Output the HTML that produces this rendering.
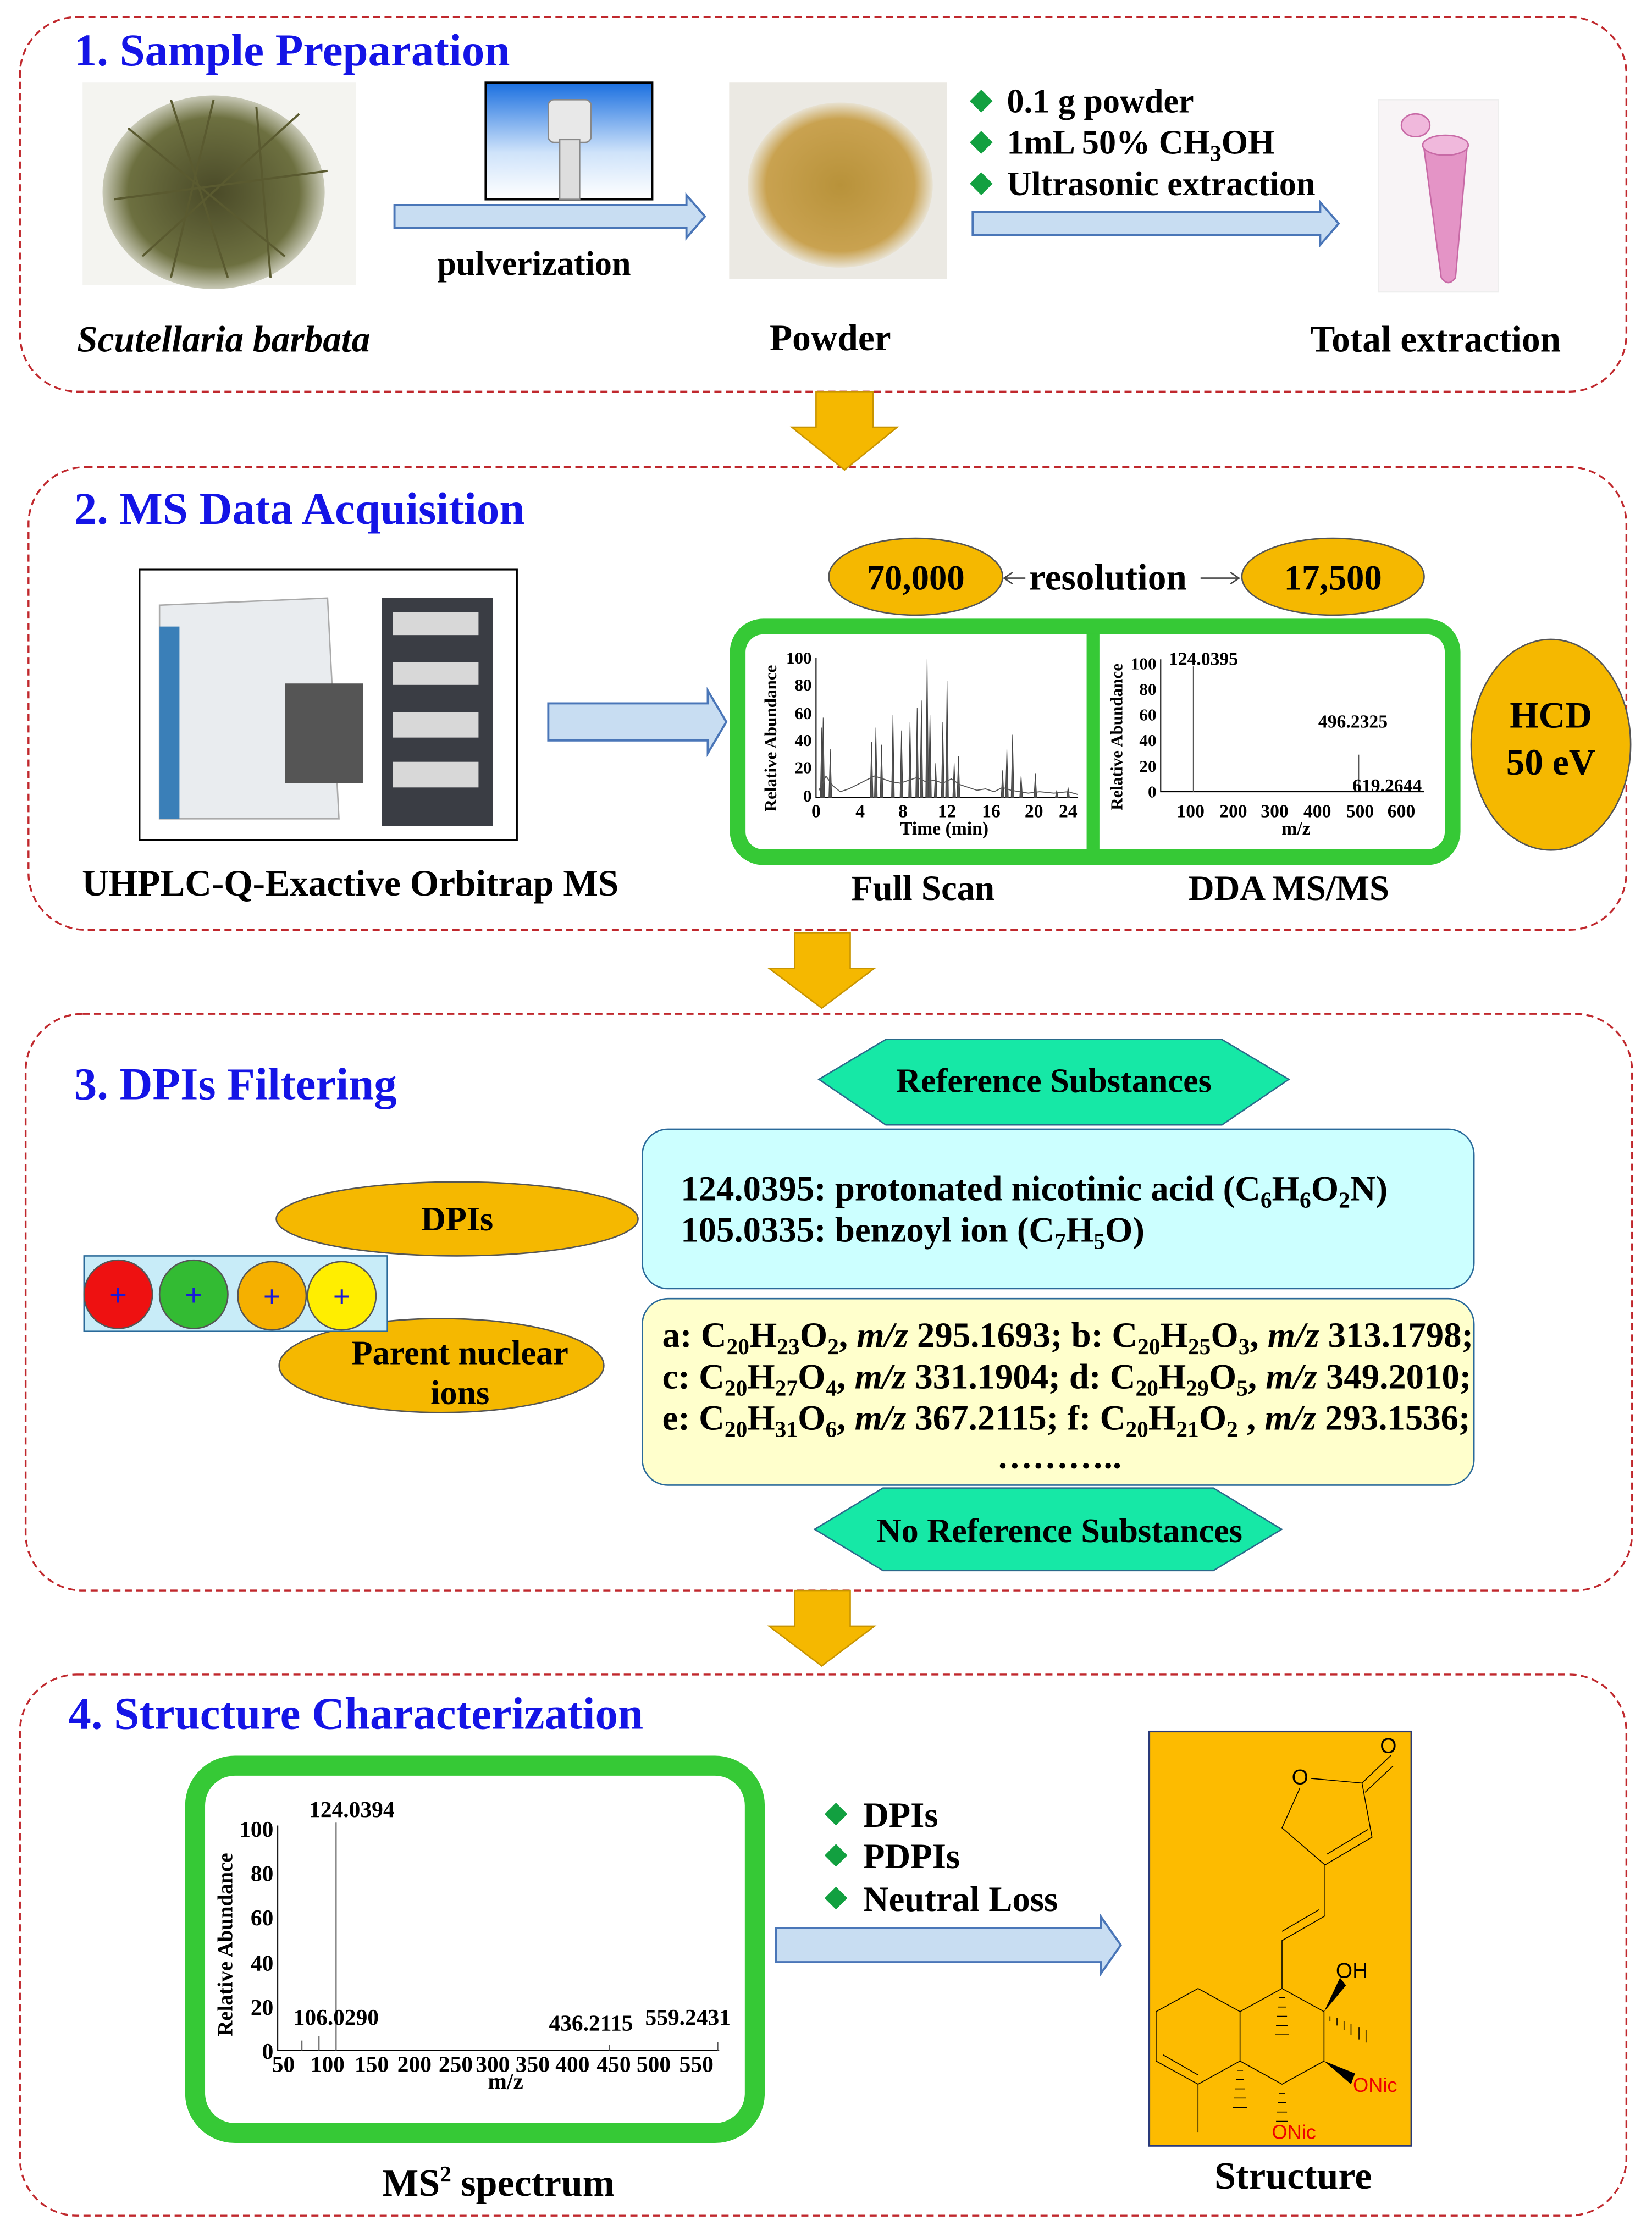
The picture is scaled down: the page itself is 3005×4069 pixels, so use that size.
<!DOCTYPE html>
<html><head><meta charset="utf-8"><style>
html,body{margin:0;padding:0;background:#fff;}
svg{display:block;}
text{font-family:"Liberation Serif",serif;font-weight:bold;}
</style></head><body>
<svg width="3005" height="4069" viewBox="0 0 1160 1571" preserveAspectRatio="none" xmlns="http://www.w3.org/2000/svg">
<defs>
<linearGradient id="sky" x1="0" y1="0" x2="0" y2="1"><stop offset="0" stop-color="#1a6fe0"/><stop offset="0.6" stop-color="#cfe3fa"/><stop offset="1" stop-color="#fff"/></linearGradient>
<radialGradient id="pow" cx="0.5" cy="0.5" r="0.5"><stop offset="0" stop-color="#b8923a"/><stop offset="0.8" stop-color="#c9a250"/><stop offset="1" stop-color="#e8e2d2"/></radialGradient>
<radialGradient id="herb" cx="0.5" cy="0.5" r="0.55"><stop offset="0" stop-color="#4a4a28"/><stop offset="0.7" stop-color="#6d7040"/><stop offset="1" stop-color="#f0f0ea"/></radialGradient>
</defs>
<g fill="none" stroke="#c0282d" stroke-width="1.3" stroke-dasharray="5,3">
<rect x="14" y="12" width="1128" height="263" rx="40"/>
<rect x="20" y="328" width="1122" height="325" rx="40"/>
<rect x="18" y="712" width="1128" height="405" rx="40"/>
<rect x="14" y="1176" width="1128" height="380" rx="40"/>
</g>
<g fill="#1414e6" font-size="32">
<text x="52" y="46">1. Sample Preparation</text>
<text x="52" y="368">2. MS Data Acquisition</text>
<text x="52" y="772">3. DPIs Filtering</text>
<text x="48" y="1214">4. Structure Characterization</text>
</g>
<g fill="#f5b800" stroke="#c89400" stroke-width="1">
<path d="M573 275H613V300H630L593 330L556 300H573Z"/>
<path d="M558 655H597V680H614L577 708L540 680H558Z"/>
<path d="M558 1117H597V1142H614L577 1170L540 1142H558Z"/>
</g>
<g fill="#c8ddf2" stroke="#4a76b8" stroke-width="1.5">
<path d="M277 144H482V137L495 152L482 167V160H277Z"/>
<path d="M683 149H927V142L940 157L927 172V165H683Z"/>
<path d="M385 494H497V485L510 507L497 529V520H385Z"/>
<path d="M545 1354H773V1346L787 1366L773 1386V1378H545Z"/>
</g>
<rect x="58" y="58" width="192" height="142" fill="#f4f4f0"/>
<ellipse cx="150" cy="135" rx="78" ry="68" fill="url(#herb)"/>
<g stroke="#5a5a30" stroke-width="1.5">
<path d="M90 90L200 180M100 180L210 80M120 70L160 195M80 140L230 120M150 70L120 195M180 75L190 195"/>
</g>
<rect x="341" y="58" width="117" height="82" fill="url(#sky)" stroke="#000" stroke-width="1.5"/>
<rect x="385" y="70" width="30" height="30" rx="4" fill="#e8e8e8" stroke="#888"/>
<rect x="393" y="98" width="14" height="42" fill="#ddd" stroke="#888"/>
<rect x="512" y="58" width="153" height="138" fill="#ebe9e3"/>
<ellipse cx="590" cy="130" rx="65" ry="58" fill="url(#pow)"/>
<rect x="968" y="70" width="84" height="135" fill="#f8f4f6" stroke="#eee"/>
<path d="M1000 105L1030 105L1022 195Q1017 202 1012 195Z" fill="#e494c6" stroke="#c86aa6"/>
<ellipse cx="1015" cy="102" rx="16" ry="7" fill="#f0b8dc" stroke="#c86aa6"/>
<ellipse cx="994" cy="88" rx="10" ry="8" fill="#f0b8dc" stroke="#c86aa6"/>
<g font-size="26" fill="#000">
<text x="375" y="193" text-anchor="middle" font-size="24">pulverization</text>
<text x="157" y="247" text-anchor="middle" font-style="italic">Scutellaria barbata</text>
<text x="583" y="246" text-anchor="middle">Powder</text>
<text x="1008" y="247" text-anchor="middle">Total extraction</text>
</g>
<g fill="#12a040">
<path d="M689 63L697 71L689 79L681 71Z"/><path d="M689 92L697 100L689 108L681 100Z"/><path d="M689 121L697 129L689 137L681 129Z"/>
<path d="M587 1266L595 1274L587 1282L579 1274Z"/><path d="M587 1295L595 1303L587 1311L579 1303Z"/><path d="M587 1325L595 1333L587 1341L579 1333Z"/>
</g>
<g font-size="24" fill="#000">
<text x="707" y="79">0.1 g powder</text>
<text x="707" y="108">1mL 50% CH<tspan font-size="16" dy="5">3</tspan><tspan dy="-5">OH</tspan></text>
<text x="707" y="137">Ultrasonic extraction</text>
</g>
<rect x="98" y="400" width="265" height="190" fill="#fff" stroke="#000" stroke-width="1.2"/>
<path d="M112 425L230 420L238 575L112 575Z" fill="#e9ecef" stroke="#aaa"/>
<rect x="112" y="440" width="14" height="135" fill="#3a7fb8"/>
<rect x="200" y="480" width="55" height="70" fill="#555"/>
<rect x="268" y="420" width="78" height="160" fill="#3a3d44"/>
<g fill="#d8d8d8"><rect x="276" y="430" width="60" height="16"/><rect x="276" y="465" width="60" height="16"/><rect x="276" y="500" width="60" height="18"/><rect x="276" y="535" width="60" height="18"/></g>
<g font-size="26" fill="#000">
<text x="246" y="629" text-anchor="middle">UHPLC-Q-Exactive Orbitrap MS</text>
<text x="648" y="632" text-anchor="middle" font-size="25">Full Scan</text>
<text x="905" y="632" text-anchor="middle" font-size="25">DDA  MS/MS</text>
<text x="778" y="414" text-anchor="middle">resolution</text>
</g>
<g stroke="#444" stroke-width="1" fill="none"><path d="M720 406H705M711 402L705 406L711 410"/><path d="M843 406H870M864 402L870 406L864 410"/></g>
<g fill="#f5b800" stroke="#555" stroke-width="1">
<ellipse cx="643" cy="405" rx="61" ry="27"/>
<ellipse cx="936" cy="405" rx="64" ry="27"/>
<ellipse cx="1089" cy="523" rx="56" ry="74"/>
</g>
<g font-size="25" fill="#000" text-anchor="middle">
<text x="643" y="414">70,000</text><text x="936" y="414">17,500</text>
<text x="1089" y="511" font-size="26">HCD</text><text x="1089" y="544" font-size="26">50 eV</text>
</g>
<rect x="518" y="440" width="502" height="162" rx="18" fill="#fff" stroke="#36c936" stroke-width="11"/>
<rect x="763" y="445" width="9" height="152" fill="#36c936"/>
<g font-size="12" fill="#000" text-anchor="end">
<text x="570" y="466">100</text><text x="570" y="485">80</text><text x="570" y="505">60</text><text x="570" y="524">40</text><text x="570" y="543">20</text><text x="570" y="563">0</text>
</g>
<text x="0" y="0" font-size="12" transform="translate(545,570) rotate(-90)">Relative Abundance</text>
<path d="M573 462V560H757" stroke="#000" stroke-width="0.8" fill="none"/>
<g font-size="13" fill="#000" text-anchor="middle">
<text x="573" y="574">0</text><text x="604" y="574">4</text><text x="634" y="574">8</text><text x="665" y="574">12</text><text x="696" y="574">16</text><text x="726" y="574">20</text><text x="750" y="574">24</text>
<text x="663" y="586">Time (min)</text>
</g>
<g fill="#555" stroke="#444" stroke-width="0.4">
<path d="M576 560L577 511L578 560ZM577 560L578 504L579 560ZM582 560L583 526L584 560ZM611 560L612 521L613 560ZM614 560L615 511L616 560ZM618 560L619 523L620 560ZM626 560L627 502L628 560ZM632 560L633 513L634 560ZM638 560L639 507L640 560ZM643 560L644 497L645 560ZM646 560L647 492L648 560ZM650 560L651 463L652 560ZM652 560L653 502L654 560ZM656 560L657 536L658 560ZM661 560L662 507L663 560ZM664 560L665 478L666 560ZM669 560L670 536L671 560ZM672 560L673 531L674 560ZM703 560L704 541L705 560ZM706 560L707 526L708 560ZM710 560L711 516L712 560ZM716 560L717 545L718 560ZM726 560L727 543L728 560ZM741 560L742 555L743 560ZM749 560L750 553L751 560Z"/>
</g>
<polyline fill="none" stroke="#555" stroke-width="0.7" points="575,555 580,545 585,552 590,556 596,554 602,551 608,548 614,545 620,547 626,549 632,550 638,548 644,546 650,549 656,548 662,550 668,547 674,551 680,553 686,555 692,554 698,556 704,553 710,555 716,556 722,557 730,556 740,557 750,556 757,558"/>
<g font-size="12" fill="#000" text-anchor="end">
<text x="812" y="470">100</text><text x="812" y="488">80</text><text x="812" y="506">60</text><text x="812" y="524">40</text><text x="812" y="542">20</text><text x="812" y="560">0</text>
</g>
<text x="0" y="0" font-size="12" transform="translate(788,569) rotate(-90)">Relative Abundance</text>
<path d="M815 463V556H1000" stroke="#000" stroke-width="0.8" fill="none"/>
<path d="M838 556V468M954 556V530" stroke="#555" stroke-width="0.8"/>
<g font-size="13" fill="#000" text-anchor="middle">
<text x="836" y="574">100</text><text x="866" y="574">200</text><text x="895" y="574">300</text><text x="925" y="574">400</text><text x="955" y="574">500</text><text x="984" y="574">600</text>
<text x="910" y="586">m/z</text>
<text x="845" y="467">124.0395</text><text x="950" y="511">496.2325</text><text x="974" y="556">619.2644</text>
</g>
<path d="M575 758L622 730H858L905 758L858 790H622Z" fill="#16e8a6" stroke="#2a6a8a" stroke-width="1"/>
<path d="M572 1074L620 1045H852L900 1074L852 1103H620Z" fill="#16e8a6" stroke="#2a6a8a" stroke-width="1"/>
<text x="740" y="767" font-size="24" text-anchor="middle" fill="#000">Reference Substances</text>
<text x="744" y="1083" font-size="24" text-anchor="middle" fill="#000">No Reference Substances</text>
<rect x="451" y="793" width="584" height="112" rx="18" fill="#ccffff" stroke="#2a6a9a" stroke-width="1"/>
<rect x="451" y="912" width="584" height="131" rx="18" fill="#ffffcc" stroke="#2a6a9a" stroke-width="1"/>
<g font-size="25" fill="#000">
<text x="478" y="843">124.0395: protonated nicotinic acid  (C<tspan font-size="16" dy="5">6</tspan><tspan dy="-5">H</tspan><tspan font-size="16" dy="5">6</tspan><tspan dy="-5">O</tspan><tspan font-size="16" dy="5">2</tspan><tspan dy="-5">N)</tspan></text>
<text x="478" y="872">105.0335: benzoyl ion (C<tspan font-size="16" dy="5">7</tspan><tspan dy="-5">H</tspan><tspan font-size="16" dy="5">5</tspan><tspan dy="-5">O)</tspan></text>
<text x="465" y="946">a: C<tspan font-size="16" dy="5">20</tspan><tspan dy="-5">H</tspan><tspan font-size="16" dy="5">23</tspan><tspan dy="-5">O</tspan><tspan font-size="16" dy="5">2</tspan><tspan dy="-5">, </tspan><tspan font-style="italic">m/z</tspan> 295.1693; b: C<tspan font-size="16" dy="5">20</tspan><tspan dy="-5">H</tspan><tspan font-size="16" dy="5">25</tspan><tspan dy="-5">O</tspan><tspan font-size="16" dy="5">3</tspan><tspan dy="-5">, </tspan><tspan font-style="italic">m/z</tspan> 313.1798;</text>
<text x="465" y="975">c: C<tspan font-size="16" dy="5">20</tspan><tspan dy="-5">H</tspan><tspan font-size="16" dy="5">27</tspan><tspan dy="-5">O</tspan><tspan font-size="16" dy="5">4</tspan><tspan dy="-5">, </tspan><tspan font-style="italic">m/z</tspan> 331.1904; d: C<tspan font-size="16" dy="5">20</tspan><tspan dy="-5">H</tspan><tspan font-size="16" dy="5">29</tspan><tspan dy="-5">O</tspan><tspan font-size="16" dy="5">5</tspan><tspan dy="-5">, </tspan><tspan font-style="italic">m/z</tspan> 349.2010;</text>
<text x="465" y="1004">e: C<tspan font-size="16" dy="5">20</tspan><tspan dy="-5">H</tspan><tspan font-size="16" dy="5">31</tspan><tspan dy="-5">O</tspan><tspan font-size="16" dy="5">6</tspan><tspan dy="-5">, </tspan><tspan font-style="italic">m/z</tspan> 367.2115; f: C<tspan font-size="16" dy="5">20</tspan><tspan dy="-5">H</tspan><tspan font-size="16" dy="5">21</tspan><tspan dy="-5">O</tspan><tspan font-size="16" dy="5">2</tspan><tspan dy="-5"> , </tspan><tspan font-style="italic">m/z</tspan> 293.1536;</text>
<text x="700" y="1031">………..</text>
</g>
<g fill="#f5b800" stroke="#555" stroke-width="1">
<ellipse cx="321" cy="856" rx="127" ry="26"/>
<ellipse cx="310" cy="959" rx="114" ry="33"/>
</g>
<text x="321" y="864" font-size="24" text-anchor="middle" fill="#000">DPIs</text>
<text x="323" y="958" font-size="24" text-anchor="middle" fill="#000">Parent nuclear</text>
<text x="323" y="986" font-size="24" text-anchor="middle" fill="#000">ions</text>
<rect x="59" y="882" width="213" height="53" fill="#c8ecf8" stroke="#2a6a9a" stroke-width="1"/>
<g stroke="#555" stroke-width="1">
<circle cx="83" cy="909" r="24" fill="#ee1111"/><circle cx="136" cy="909" r="24" fill="#33bb33"/><circle cx="191" cy="910" r="24" fill="#f5b000"/><circle cx="240" cy="910" r="24" fill="#ffee00"/>
</g>
<g font-size="22" fill="#1a1ad8" text-anchor="middle"><text x="83" y="917">+</text><text x="136" y="917">+</text><text x="191" y="918">+</text><text x="240" y="918">+</text></g>
<rect x="137" y="1240" width="393" height="258" rx="28" fill="#fff" stroke="#36c936" stroke-width="14"/>
<g font-size="16" fill="#000" text-anchor="end">
<text x="192" y="1290">100</text><text x="192" y="1321">80</text><text x="192" y="1352">60</text><text x="192" y="1384">40</text><text x="192" y="1415">20</text><text x="192" y="1446">0</text>
</g>
<text x="0" y="0" font-size="15" transform="translate(163,1430) rotate(-90)">Relative Abundance</text>
<path d="M195 1282V1440H505" stroke="#000" stroke-width="0.8" fill="none"/>
<path d="M236 1440V1280M224 1440V1430M212 1440V1433M428 1440V1436M504 1440V1434" stroke="#555" stroke-width="0.8"/>
<g font-size="16" fill="#000" text-anchor="middle">
<text x="199" y="1455">50</text><text x="230" y="1455">100</text><text x="261" y="1455">150</text><text x="291" y="1455">200</text><text x="320" y="1455">250</text><text x="346" y="1455">300</text><text x="374" y="1455">350</text><text x="402" y="1455">400</text><text x="431" y="1455">450</text><text x="459" y="1455">500</text><text x="489" y="1455">550</text>
<text x="355" y="1467">m/z</text>
<text x="247" y="1276">124.0394</text><text x="236" y="1422">106.0290</text><text x="415" y="1426">436.2115</text><text x="483" y="1422">559.2431</text>
</g>
<g font-size="25" fill="#000">
<text x="606" y="1283">DPIs</text><text x="606" y="1312">PDPIs</text><text x="606" y="1342">Neutral Loss</text>
</g>
<text x="350" y="1542" font-size="27" text-anchor="middle" fill="#000">MS<tspan font-size="16" dy="-10">2</tspan><tspan dy="10"> spectrum</tspan></text>
<text x="908" y="1537" font-size="27" text-anchor="middle" fill="#000">Structure</text>
<rect x="807" y="1216" width="184" height="291" fill="#fdbb00" stroke="#2a3a7a" stroke-width="1.2"/>
<g transform="translate(791.4,1177.4) scale(0.1404,0.2169)" fill="none" stroke="#000" stroke-width="1.6">
<path vector-effect="non-scaling-stroke" d="M865 360L775 490L990 610L1225 520L1175 345L920 330M1175 345L1320 255M1190 375L1330 290M1000 575L1205 495M990 610V775L775 855V1010M775 825L960 755"/>
<path vector-effect="non-scaling-stroke" d="M775 1010L985 1085V1245L775 1320L565 1245V1085L775 1010M565 1085L355 1010L145 1085V1245L355 1320L565 1245M180 1225L355 1290M355 1320V1475"/>
<path vector-effect="non-scaling-stroke" d="M760 1040H790M755 1070H795M750 1100H800M745 1130H805M740 1160H810M1015 1100V1115M1050 1105V1130M1085 1115V1145M1120 1125V1160M1160 1135V1175M1195 1145V1185M550 1275H580M545 1305H585M540 1335H590M535 1365H595M530 1395H600M760 1350H790M755 1380H795M750 1410H800M745 1440H805"/>
<path d="M985 1085L1065 975L1095 1000Z M985 1245L1140 1285L1120 1320Z" fill="#000" stroke="none"/>
</g>
<text x="938" y="1389" font-size="15" fill="#000" style="font-family:'Liberation Sans',sans-serif;font-weight:normal">OH</text>
<text x="950" y="1469" font-size="14" fill="#e00" style="font-family:'Liberation Sans',sans-serif;font-weight:normal">ONic</text>
<text x="893" y="1502" font-size="14" fill="#e00" style="font-family:'Liberation Sans',sans-serif;font-weight:normal">ONic</text>
<text x="907" y="1253" font-size="15" fill="#000" style="font-family:'Liberation Sans',sans-serif;font-weight:normal">O</text>
<text x="969" y="1231" font-size="15" fill="#000" style="font-family:'Liberation Sans',sans-serif;font-weight:normal">O</text>
</svg>
</body></html>
